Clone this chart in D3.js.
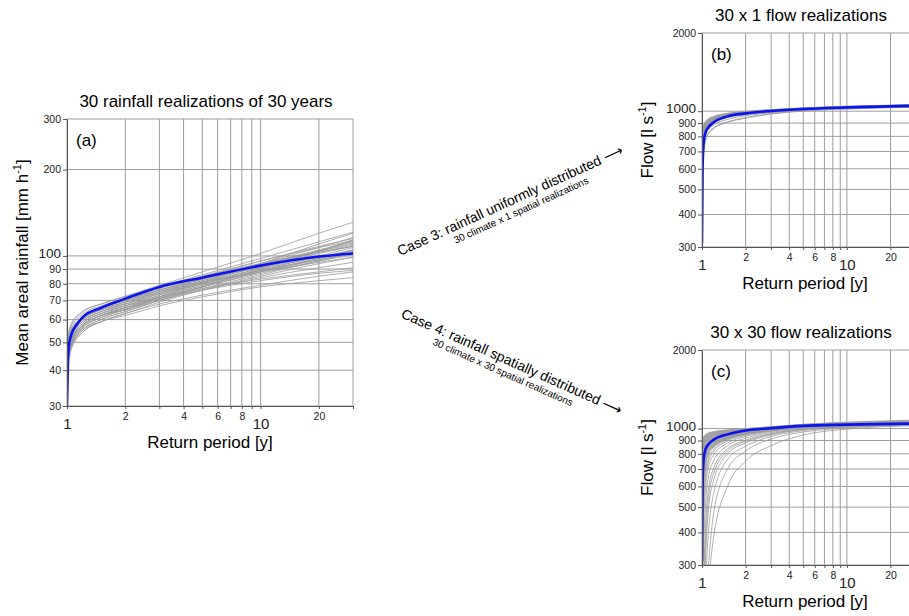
<!DOCTYPE html>
<html>
<head>
<meta charset="utf-8">
<script src="https://cdn.jsdelivr.net/npm/d3@7"></script>
<style>
body { margin: 0; background: #fff; }
svg { display: block; font-family: "Liberation Sans", Arial, sans-serif; }
</style>
</head>
<body>
<svg id="chart" width="909" height="616"></svg>
<script>
// return periods shared by all panels
var xTicks = [1, 2, 3, 4, 5, 6, 7, 8, 9, 10, 20, 30];
var xLabels = [1, 2, 4, 6, 8, 10, 20];
var xBig = [1, 10];

// (a) rainfall
var rainTicks = [30, 40, 50, 60, 70, 80, 90, 100, 200, 300];
var rainBig = [100];
var rainT = [1, 1.05, 1.2, 1.5, 2, 3, 5, 10, 20, 30];
var rainMeanT = [1, 1.01, 1.02, 1.05, 1.1, 1.2, 1.5, 2, 3, 5, 10, 20, 30];
var rainMean = [30, 41, 48, 53, 56.5, 61, 66, 71, 78, 84, 92.5, 99.5, 102];
var rainRuns = [
    [46, 52, 59, 64, 68, 75, 83, 94, 107, 116],
    [44, 50, 57, 62, 66, 72, 79, 88, 97, 103],
    [48, 54, 61, 66, 70, 76, 83, 91, 99, 104],
    [42, 48, 55, 60, 64, 70, 77, 86, 96, 102],
    [50, 56, 62.5, 67, 71, 78, 86, 98, 112, 121],
    [45, 51, 58, 63, 67, 73, 80, 89, 98, 104],
    [47, 53, 59, 64, 67, 72, 77, 83, 88, 91],
    [43, 49, 56, 61, 65, 72, 81, 94, 110, 120],
    [49, 54, 60, 65, 69, 75, 81, 88, 95, 99],
    [41, 47, 54, 59, 63, 69, 76, 85, 94, 99],
    [51, 57, 63.5, 68, 72.5, 79, 88, 102, 120, 131],
    [46, 52, 58, 63, 66, 71, 76, 82, 87, 89],
    [44, 50, 57, 62, 66, 73, 81, 92, 104, 111],
    [48, 53, 60, 65, 69, 75, 82, 92, 102, 108],
    [43, 48, 55, 59, 63, 68, 73, 79, 85, 88],
    [47, 53, 60, 65, 69, 76, 84, 96, 108, 115],
    [45, 51, 57, 62, 65, 71, 78, 87, 96, 101],
    [49, 55, 61, 66, 70, 77, 85, 96, 107, 113],
    [42, 48, 54, 59, 62, 67, 72, 78, 82, 84],
    [46, 51, 58, 63, 67, 74, 82, 93, 105, 112],
    [50, 55, 61, 66, 70, 76, 83, 93, 103, 109],
    [44, 49, 56, 61, 65, 71, 78, 88, 98, 105],
    [47, 53, 59, 64, 68, 74, 81, 90, 99, 105],
    [45, 50, 57, 62, 66, 72, 80, 91, 104, 113],
    [48, 54, 60, 65, 68, 74, 80, 89, 97, 102],
    [43, 49, 55, 60, 64, 70, 78, 90, 104, 114],
    [49, 54, 61, 66, 70, 77, 84, 94, 104, 110],
    [46, 51, 57, 62, 65, 70, 76, 84, 91, 95],
    [44, 50, 56, 61, 65, 71, 79, 89, 100, 107],
    [52, 58, 64, 68, 72, 78, 85, 94, 103, 108]
];

// (b) and (c) flow
var flowTicks = [300, 400, 500, 600, 700, 800, 900, 1000, 2000];
var flowBig = [1000];
var flowT = [1, 1.01, 1.03, 1.06, 1.1, 1.2, 1.5, 2, 3, 5, 10, 30];

var flowMeanB = [310, 620, 770, 830, 862, 905, 955, 981, 1002, 1020, 1034, 1050];
var flowRunsB = [
    [600, 700, 790, 845, 880, 915, 955, 978, 998, 1015, 1030, 1045],
    [650, 730, 805, 855, 888, 922, 960, 982, 1001, 1018, 1032, 1048],
    [700, 760, 825, 868, 898, 930, 965, 986, 1004, 1020, 1034, 1050],
    [750, 795, 845, 882, 908, 937, 970, 990, 1007, 1023, 1037, 1053],
    [800, 830, 865, 895, 918, 944, 975, 993, 1010, 1026, 1040, 1056],
    [850, 865, 885, 910, 930, 952, 980, 997, 1013, 1028, 1042, 1058],
    [580, 660, 745, 805, 845, 885, 930, 960, 986, 1007, 1025, 1040],
    [620, 710, 785, 838, 872, 908, 950, 975, 996, 1014, 1030, 1046],
    [680, 745, 812, 858, 890, 922, 958, 979, 998, 1016, 1031, 1047],
    [720, 775, 832, 870, 898, 928, 962, 983, 1002, 1019, 1034, 1051],
    [770, 810, 852, 884, 908, 935, 967, 987, 1005, 1021, 1036, 1052],
    [820, 845, 872, 898, 918, 942, 972, 991, 1008, 1024, 1039, 1055],
    [610, 690, 772, 826, 862, 900, 944, 970, 992, 1011, 1027, 1041],
    [660, 735, 800, 848, 880, 915, 953, 976, 997, 1015, 1031, 1046],
    [740, 788, 838, 875, 902, 932, 966, 987, 1006, 1022, 1037, 1054],
    [590, 650, 720, 780, 820, 862, 910, 945, 978, 1003, 1022, 1038],
    [630, 715, 790, 842, 876, 912, 952, 976, 997, 1016, 1032, 1049],
    [690, 752, 818, 862, 893, 926, 962, 984, 1003, 1020, 1035, 1051],
    [780, 818, 858, 888, 911, 938, 969, 989, 1007, 1023, 1038, 1055],
    [840, 858, 880, 905, 926, 949, 977, 995, 1012, 1027, 1041, 1058],
    [600, 690, 775, 832, 868, 906, 948, 972, 993, 1012, 1028, 1043],
    [670, 740, 808, 855, 886, 920, 957, 979, 999, 1017, 1033, 1049],
    [710, 768, 826, 866, 895, 927, 962, 983, 1002, 1019, 1035, 1052],
    [760, 802, 848, 882, 906, 934, 966, 986, 1004, 1021, 1036, 1053],
    [640, 720, 795, 846, 878, 913, 952, 975, 996, 1015, 1031, 1047],
    [730, 782, 835, 872, 900, 930, 964, 985, 1004, 1021, 1036, 1052],
    [810, 838, 868, 894, 915, 940, 970, 990, 1008, 1024, 1039, 1056],
    [585, 640, 710, 770, 812, 855, 905, 940, 975, 1001, 1020, 1036],
    [700, 758, 820, 864, 894, 926, 961, 982, 1001, 1018, 1033, 1050],
    [860, 872, 890, 912, 932, 954, 982, 998, 1014, 1030, 1044, 1062]
];

var flowMeanC = [310, 640, 775, 835, 866, 905, 950, 983, 1003, 1024, 1035, 1046];
// envelope of the densest part of the 900 runs
var flowBandHiC = [900, 915, 935, 950, 962, 975, 990, 1002, 1020, 1042, 1060, 1076];
var flowBandLoC = [620, 660, 720, 770, 810, 850, 910, 950, 985, 1008, 1022, 1032];
var flowRunsC = [
    [880, 905, 930, 948, 960, 972, 988, 999, 1017, 1038, 1058, 1078],
    [850, 885, 915, 938, 952, 966, 984, 996, 1014, 1035, 1054, 1072],
    [810, 860, 898, 925, 942, 958, 978, 992, 1011, 1032, 1050, 1066],
    [770, 830, 878, 910, 930, 950, 972, 988, 1008, 1029, 1047, 1060],
    [730, 800, 855, 893, 918, 940, 966, 984, 1005, 1026, 1043, 1056],
    [690, 770, 832, 875, 904, 930, 960, 980, 1002, 1023, 1040, 1052],
    [650, 740, 808, 857, 890, 920, 954, 976, 999, 1020, 1037, 1049],
    [610, 705, 782, 838, 875, 908, 947, 972, 996, 1017, 1034, 1046],
    [570, 670, 755, 817, 858, 895, 940, 967, 993, 1014, 1031, 1043],
    [530, 630, 725, 795, 840, 882, 932, 962, 990, 1011, 1029, 1040],
    [490, 590, 695, 772, 822, 868, 924, 957, 986, 1009, 1027, 1038],
    [450, 550, 662, 748, 803, 853, 915, 951, 983, 1006, 1025, 1036],
    [280, 470, 640, 740, 800, 855, 918, 955, 990, 1016, 1034, 1048],
    [260, 420, 600, 715, 785, 845, 912, 952, 988, 1014, 1032, 1046],
    [250, 380, 560, 680, 760, 830, 905, 948, 985, 1012, 1030, 1044],
    [240, 340, 510, 640, 735, 815, 895, 942, 980, 1010, 1029, 1043],
    [220, 300, 460, 600, 700, 790, 880, 932, 975, 1006, 1026, 1040],
    [200, 250, 370, 520, 640, 750, 860, 918, 966, 1000, 1022, 1038],
    [180, 210, 290, 430, 570, 700, 835, 902, 957, 996, 1020, 1036],
    [170, 195, 260, 380, 520, 670, 820, 892, 952, 993, 1018, 1035],
    [160, 180, 230, 330, 470, 630, 800, 880, 945, 990, 1016, 1034],
    [150, 165, 200, 270, 380, 560, 760, 855, 932, 982, 1012, 1032],
    [140, 155, 185, 230, 290, 470, 700, 820, 912, 970, 1006, 1030],
    [130, 145, 170, 205, 250, 380, 600, 750, 860, 945, 995, 1026]
];

var svg = d3.select("#chart");

function drawPanel(p) {
    var g = svg.append("g");
    var x = d3.scaleLog().domain([1, 30]).range([p.left, p.right]);
    var y = d3.scaleLog().domain(p.yDomain).range([p.bottom, p.top]);

    g.append("clipPath").attr("id", "clip-" + p.id)
        .append("rect")
        .attr("x", p.left).attr("y", p.top)
        .attr("width", p.right - p.left).attr("height", p.bottom - p.top);

    // grid
    g.selectAll(".vgrid").data(xTicks).enter().append("line")
        .attr("x1", function (d) { return x(d); })
        .attr("x2", function (d) { return x(d); })
        .attr("y1", p.top).attr("y2", p.bottom)
        .attr("stroke", "#9d9d9d").attr("stroke-width", 1);
    g.selectAll(".hgrid").data(p.yTicks).enter().append("line")
        .attr("x1", p.left).attr("x2", p.right)
        .attr("y1", function (d) { return y(d); })
        .attr("y2", function (d) { return y(d); })
        .attr("stroke", "#9d9d9d").attr("stroke-width", 1);

    var plot = g.append("g").attr("clip-path", "url(#clip-" + p.id + ")");

    if (p.bandHi) {
        var area = d3.area()
            .x(function (d, i) { return x(p.runT[i]); })
            .y0(function (d, i) { return y(p.bandLo[i]); })
            .y1(function (d) { return y(d); })
            .curve(d3.curveMonotoneX);
        plot.append("path").datum(p.bandHi)
            .attr("d", area)
            .attr("fill", "#a6a6a6").attr("opacity", 0.85);
    }

    var runLine = d3.line()
        .x(function (d, i) { return x(p.runT[i]); })
        .y(function (d) { return y(d); })
        .curve(d3.curveMonotoneX);
    plot.selectAll(".run").data(p.runs).enter().append("path")
        .attr("d", runLine)
        .attr("fill", "none")
        .attr("stroke", "#9a9a9a")
        .attr("stroke-width", 0.8);

    var meanLine = d3.line()
        .x(function (d, i) { return x(p.meanT[i]); })
        .y(function (d) { return y(d); })
        .curve(d3.curveMonotoneX);
    plot.append("path").datum(p.mean)
        .attr("d", meanLine)
        .attr("fill", "none")
        .attr("stroke", "#0a14f0")
        .attr("stroke-width", 2.6);

    // axes
    var xAxis = g.append("g")
        .attr("transform", "translate(0," + p.bottom + ")")
        .call(d3.axisBottom(x).tickValues(xTicks).tickSizeInner(3).tickSizeOuter(0)
            .tickFormat(function (d) { return xLabels.indexOf(d) >= 0 ? d : ""; }));
    xAxis.select(".domain").attr("stroke", "#555");
    xAxis.selectAll(".tick line").attr("stroke", "#555");
    xAxis.selectAll(".tick text")
        .attr("fill", "#222")
        .attr("font-family", "Liberation Sans, Arial, sans-serif")
        .attr("dy", null)
        .attr("y", function (d) { return xBig.indexOf(d) >= 0 ? 23 : 14; })
        .attr("font-size", function (d) { return xBig.indexOf(d) >= 0 ? 15 : 10.5; });

    var yAxis = g.append("g")
        .attr("transform", "translate(" + p.left + ",0)")
        .call(d3.axisLeft(y).tickValues(p.yTicks).tickSizeInner(4).tickSizeOuter(0)
            .tickPadding(2).tickFormat(function (d) { return d; }));
    yAxis.select(".domain").attr("stroke", "#555");
    yAxis.selectAll(".tick line").attr("stroke", "#555");
    yAxis.selectAll(".tick text")
        .attr("fill", "#222")
        .attr("font-family", "Liberation Sans, Arial, sans-serif")
        .attr("dy", function (d) { return p.yBig.indexOf(d) >= 0 ? "0.12em" : "0.32em"; })
        .attr("font-size", function (d) { return p.yBig.indexOf(d) >= 0 ? 13.5 : 10.5; });

    // labels
    svg.append("text")
        .attr("x", (p.titleX)).attr("y", p.top - 12)
        .attr("text-anchor", "middle").attr("font-size", 17)
        .text(p.title);
    svg.append("text")
        .attr("x", p.left + 9).attr("y", p.top + 27)
        .attr("font-size", 17)
        .text(p.tag);
    svg.append("text")
        .attr("x", p.xLabelX).attr("y", p.bottom + 42)
        .attr("text-anchor", "middle").attr("font-size", 17)
        .text("Return period [y]");
    var yl = svg.append("text")
        .attr("transform", "translate(" + p.yLabelX + "," + ((p.top + p.bottom) / 2) + ") rotate(-90)")
        .attr("text-anchor", "middle").attr("font-size", 17);
    yl.append("tspan").text(p.yLabel);
    yl.append("tspan").attr("font-size", 11).attr("dy", -7).text("-1");
    yl.append("tspan").attr("dy", 7).text("]");
}

drawPanel({
    id: "a", left: 67, right: 353, top: 119, bottom: 406,
    yDomain: [30, 300], yTicks: rainTicks, yBig: rainBig,
    runT: rainT, runs: rainRuns, meanT: rainMeanT, mean: rainMean,
    title: "30 rainfall realizations of 30 years", titleX: 206, tag: "(a)",
    xLabelX: 210, yLabelX: 28, yLabel: "Mean areal rainfall [mm h"
});
drawPanel({
    id: "b", left: 702, right: 916, top: 33, bottom: 247,
    yDomain: [300, 2000], yTicks: flowTicks, yBig: flowBig,
    runT: flowT, runs: flowRunsB, meanT: flowT, mean: flowMeanB,
    title: "30 x 1 flow realizations", titleX: 801, tag: "(b)",
    xLabelX: 805, yLabelX: 653, yLabel: "Flow [l s"
});
drawPanel({
    id: "c", left: 702, right: 916, top: 350, bottom: 565,
    yDomain: [300, 2000], yTicks: flowTicks, yBig: flowBig,
    runT: flowT, runs: flowRunsC, meanT: flowT, mean: flowMeanC,
    bandHi: flowBandHiC, bandLo: flowBandLoC,
    title: "30 x 30 flow realizations", titleX: 801, tag: "(c)",
    xLabelX: 805, yLabelX: 653, yLabel: "Flow [l s"
});

// case annotations between panels
var cases = [
    { main: "Case 3: rainfall uniformly distributed \u27f6", sub: "30 climate x 1 spatial realizations",
      x: 512, y: 205, angle: -24.5, subX: 6 },
    { main: "Case 4: rainfall spatially distributed \u27f6", sub: "30 climate x 30 spatial realizations",
      x: 510, y: 366, angle: 24, subX: -4 }
];
cases.forEach(function (c) {
    var t = svg.append("g")
        .attr("transform", "translate(" + c.x + "," + c.y + ") rotate(" + c.angle + ")");
    t.append("text").attr("text-anchor", "middle").attr("font-size", 14).text(c.main);
    t.append("text").attr("x", c.subX).attr("y", 12).attr("text-anchor", "middle")
        .attr("font-size", 10).text(c.sub);
});
</script>
</body>
</html>
